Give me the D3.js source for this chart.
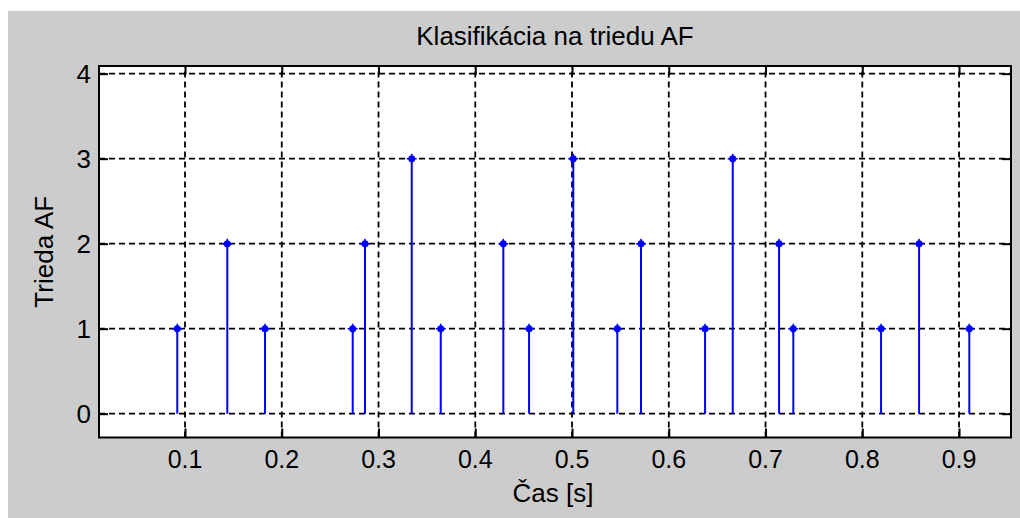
<!DOCTYPE html>
<html>
<head>
<meta charset="utf-8">
<script src="https://cdn.jsdelivr.net/npm/d3@7"></script>
<style>
  html, body { margin: 0; padding: 0; background: #fff; }
  svg { display: block; font-family: "Liberation Sans", Arial, sans-serif; }
</style>
</head>
<body>
<script>
// stem data
const times = [0.092, 0.1437, 0.1827, 0.2733, 0.286, 0.3343, 0.3643, 0.429, 0.4556,
               0.5013, 0.5468, 0.5713, 0.6375, 0.6661, 0.714, 0.7287, 0.8194, 0.8587, 0.9106];
const classes = [1, 2, 1, 1, 2, 3, 1, 2, 1, 3, 1, 2, 1, 3, 2, 1, 1, 2, 1];

const xTicks = [0.1, 0.2, 0.3, 0.4, 0.5, 0.6, 0.7, 0.8, 0.9];
const yTicks = [0, 1, 2, 3, 4];

const title = "Klasifikácia na triedu AF";
const xLabel = "Čas [s]";
const yLabel = "Trieda AF";

const W = 1020, H = 518;
const box = {left: 99, right: 1011, top: 66, bottom: 437.5};

const svg = d3.select("body").append("svg")
              .attr("width", W)
              .attr("height", H);

// grey figure background
svg.append("rect")
   .attr("x", 8).attr("y", 11)
   .attr("width", W - 8).attr("height", H - 11)
   .attr("fill", "#cccccc");

svg.append("rect")
   .attr("x", box.left).attr("y", box.top)
   .attr("width", box.right - box.left).attr("height", box.bottom - box.top)
   .attr("fill", "#fff");

const x = d3.scaleLinear().domain([0.0111, 0.9537]).range([box.left, box.right]);
const y = d3.scaleLinear().domain([-0.28, 4.09]).range([box.bottom, box.top]);

// dashed grid
const grid = svg.append("g")
                .attr("stroke", "#000")
                .attr("stroke-width", 1.8)
                .attr("stroke-dasharray", "6,4");

grid.selectAll(".vg")
    .data(xTicks)
  .enter().append("line")
    .attr("x1", d => x(d)).attr("x2", d => x(d))
    .attr("y1", box.bottom).attr("y2", box.top);

grid.selectAll(".hg")
    .data(yTicks)
  .enter().append("line")
    .attr("x1", box.left).attr("x2", box.right)
    .attr("y1", d => y(d)).attr("y2", d => y(d));

// axes (box with inward ticks on all sides)
const tickLen = 9;
const xAxisB = d3.axisBottom(x).tickValues(xTicks).tickSizeInner(-tickLen).tickSizeOuter(0).tickFormat("");
const xAxisT = d3.axisTop(x).tickValues(xTicks).tickSizeInner(-tickLen).tickSizeOuter(0).tickFormat("");
const yAxisL = d3.axisLeft(y).tickValues(yTicks).tickSizeInner(-tickLen).tickSizeOuter(0).tickFormat("");
const yAxisR = d3.axisRight(y).tickValues(yTicks).tickSizeInner(-tickLen).tickSizeOuter(0).tickFormat("");

const axes = [
  [xAxisB, `translate(0,${box.bottom})`],
  [xAxisT, `translate(0,${box.top})`],
  [yAxisL, `translate(${box.left},0)`],
  [yAxisR, `translate(${box.right},0)`]
];
axes.forEach(([ax, tr]) => {
  const g = svg.append("g").attr("transform", tr).call(ax);
  g.selectAll("line").attr("stroke", "#000").attr("stroke-width", 2);
  g.select(".domain").remove();
});

svg.append("rect")
   .attr("x", box.left).attr("y", box.top)
   .attr("width", box.right - box.left).attr("height", box.bottom - box.top)
   .attr("fill", "none")
   .attr("stroke", "#000")
   .attr("stroke-width", 2);

// tick labels
svg.append("g").selectAll("text")
   .data(xTicks)
 .enter().append("text")
   .attr("x", d => x(d))
   .attr("y", 468)
   .attr("text-anchor", "middle")
   .attr("font-size", 25)
   .text(d => d3.format(".1f")(d));

svg.append("g").selectAll("text")
   .data(yTicks)
 .enter().append("text")
   .attr("x", 91)
   .attr("y", d => y(d) + 9.5)
   .attr("text-anchor", "end")
   .attr("font-size", 26)
   .text(d => d);

// stems
const stems = svg.append("g");
const data = times.map((t, i) => ({t, v: classes[i]}));

stems.selectAll("line")
     .data(data)
   .enter().append("line")
     .attr("x1", d => x(d.t)).attr("x2", d => x(d.t))
     .attr("y1", y(0)).attr("y2", d => y(d.v))
     .attr("stroke", "#0000ff")
     .attr("stroke-width", 2);

stems.selectAll("circle")
     .data(data)
   .enter().append("circle")
     .attr("cx", d => x(d.t))
     .attr("cy", d => y(d.v))
     .attr("r", 3.5)
     .attr("fill", "#0000ff");

stems.selectAll("path")
     .data(data)
   .enter().append("path")
     .attr("d", d => `M${x(d.t) - 5},${y(d.v)}h10M${x(d.t)},${y(d.v) - 5}v10`)
     .attr("stroke", "#0000ff")
     .attr("stroke-width", 1.5);

// labels
svg.append("text")
   .attr("x", (box.left + box.right) / 2)
   .attr("y", 45)
   .attr("text-anchor", "middle")
   .attr("font-size", 26)
   .text(title);

svg.append("text")
   .attr("x", 553)
   .attr("y", 502)
   .attr("text-anchor", "middle")
   .attr("font-size", 26)
   .text(xLabel);

svg.append("text")
   .attr("transform", `translate(53,${(box.top + box.bottom) / 2}) rotate(-90)`)
   .attr("text-anchor", "middle")
   .attr("font-size", 26)
   .text(yLabel);
</script>
</body>
</html>
